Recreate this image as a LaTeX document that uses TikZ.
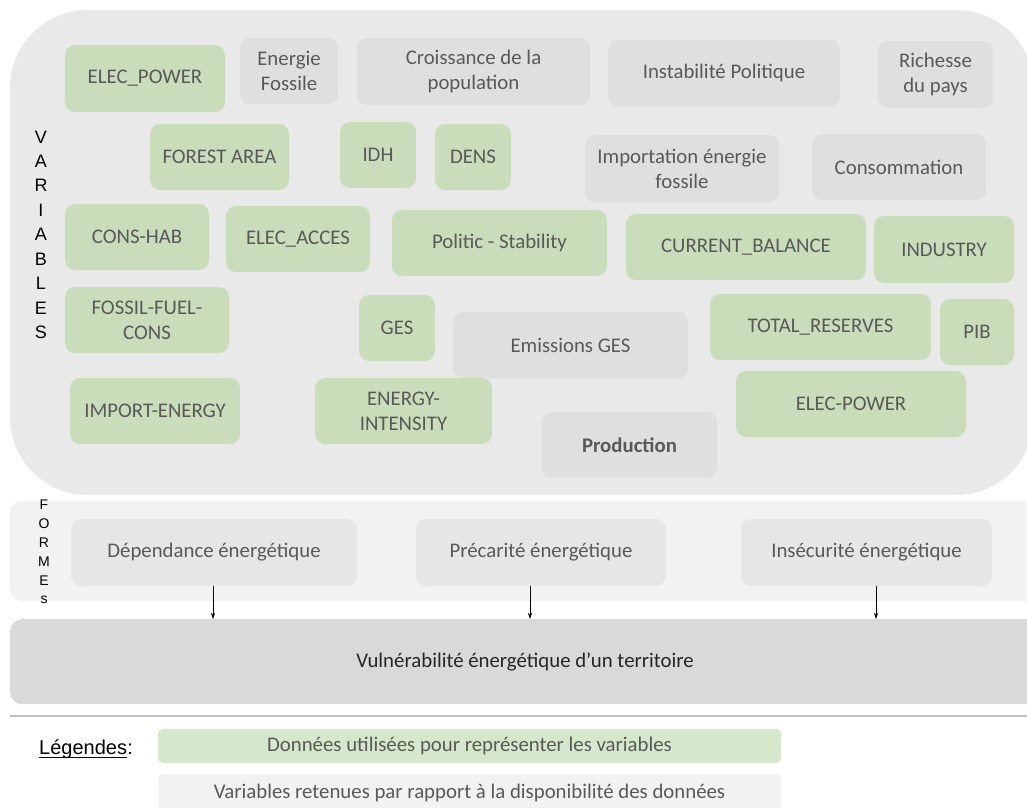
\documentclass[tikz,border=0pt]{standalone}
\usepackage{fontspec}
\setmainfont{Carlito}
\newfontfamily\arialf{Liberation Sans}
\usetikzlibrary{arrows.meta}
\definecolor{panel}{HTML}{E9E9E9}
\definecolor{gfill}{HTML}{C9DDBA}
\definecolor{grfill}{HTML}{DFDFDF}
\definecolor{formp}{HTML}{F2F2F2}
\definecolor{formb}{HTML}{E6E6E6}
\definecolor{vulb}{HTML}{D9D9D9}
\definecolor{legg}{HTML}{D5E8CB}
\definecolor{txt}{HTML}{595959}
\definecolor{sepl}{HTML}{BFBFBF}
\newcommand\mybox[7]{\node[#2, minimum width={(#5-#3)*1pt}, minimum height={(#6-#4)*1pt}] (#1) at ({(#3+#5)/2},{(#4+#6)/2}) {#7};}
\tikzset{
  base/.style={rounded corners=10pt, inner sep=0pt, align=center, text=txt, font=\fontsize{20.8}{25}\selectfont},
  greenbox/.style={base, fill=gfill},
  graybox/.style={base, fill=grfill},
  formbox/.style={base, fill=formb},
  legbox/.style={base, rounded corners=5pt},
  vlet/.style={font=\arialf\fontsize{18}{18}\selectfont, text=black, inner sep=0pt},
  flet/.style={font=\arialf\fontsize{14}{14}\selectfont, text=black, inner sep=0pt},
  arr/.style={-{Stealth[length=6pt,width=4pt]}, black, line width=0.6pt}
}
\begin{document}
\begin{tikzpicture}[x=1pt,y=-1pt]
\clip (0,0) rectangle (1027,807);
\fill[white] (0,0) rectangle (1027,807);
% panels
\fill[panel, rounded corners=78pt] (10,10) rectangle (1034,495);
\fill[formp, rounded corners=12pt] (10,501) rectangle (1045,601);
% variables
\mybox{ep}{greenbox}{65}{45}{225}{112}{ELEC\_POWER}
\mybox{ef}{graybox}{240}{38}{338}{104}{Energie\\Fossile}
\mybox{cp}{graybox}{357}{38}{590}{105}{Croissance de la\\population}
\mybox{ip}{graybox}{608}{40}{840}{106}{Instabilité Politique}
\mybox{rp}{graybox}{878}{41}{993}{108}{Richesse\\du pays}
\mybox{fa}{greenbox}{150}{124}{289}{190}{FOREST AREA}
\mybox{idh}{greenbox}{340}{122}{416}{188}{IDH}
\mybox{dens}{greenbox}{435}{124}{511}{190}{DENS}
\mybox{ief}{graybox}{585}{135}{779}{202}{Importation énergie\\fossile}
\mybox{cons}{graybox}{812}{134}{986}{200}{Consommation}
\mybox{ch}{greenbox}{65}{204}{209}{270}{CONS-HAB}
\mybox{ea}{greenbox}{226}{206}{370}{272}{ELEC\_ACCES}
\mybox{ps}{greenbox}{392}{210}{607}{276}{Politic - Stability}
\mybox{cb}{greenbox}{626}{214}{866}{280}{CURRENT\_BALANCE}
\mybox{ind}{greenbox}{874}{216}{1014}{283}{INDUSTRY}
\mybox{ffc}{greenbox}{65}{287}{229}{353}{FOSSIL-FUEL-\\CONS}
\mybox{ges}{greenbox}{359}{295}{435}{361}{GES}
\mybox{eg}{graybox}{453}{312}{688}{378}{Emissions GES}
\mybox{tr}{greenbox}{710}{294}{931}{360}{TOTAL\_RESERVES}
\mybox{pib}{greenbox}{940}{299}{1014}{365}{PIB}
\mybox{ie}{greenbox}{70}{378}{240}{444}{IMPORT-ENERGY}
\mybox{ei}{greenbox}{315}{378}{492}{444}{ENERGY-\\INTENSITY}
\mybox{ep2}{greenbox}{736}{371}{966}{437}{ELEC-POWER}
\mybox{prod}{graybox}{542}{412}{717}{478}{\bfseries Production}
% vertical label VARIABLES
\foreach \l [count=\i from 0] in {V,A,R,I,A,B,L,E,S}
  \node[vlet] (v\i) at (41,{137+\i*24.4}) {\l};
% vertical label FORMEs
\foreach \l [count=\i from 0] in {F,O,R,M,E,s}
  \node[flet] (f\i) at (44,{505+\i*19}) {\l};
% forms
\mybox{dep}{formbox}{71}{519}{357}{586}{Dépendance énergétique}
\mybox{pre}{formbox}{416}{519}{666}{586}{Précarité énergétique}
\mybox{ins}{formbox}{741}{519}{992}{586}{Insécurité énergétique}
% vulnerability
\node[rounded corners=12pt, fill=vulb, inner sep=0pt, minimum width=1040pt, minimum height=85pt, anchor=north west] (vul) at (10,619) {};
\node[text=black!85, font=\fontsize{20.8}{25}\selectfont, inner sep=0pt] (vult) at (525,662) {Vulnérabilité énergétique d’un territoire};
\draw[arr] (dep.south -| 213,0) -- (vul.north -| 213,0);
\draw[arr] (pre.south -| 530,0) -- (vul.north -| 530,0);
\draw[arr] (ins.south -| 876,0) -- (vul.north -| 876,0);
% separator
\coordinate (s1) at (10,716);
\coordinate (s2) at (1027,716);
\draw[sepl, line width=1.6pt] (s1) -- (s2);
% legend
\node[font=\arialf\fontsize{20}{22}\selectfont, text=black, inner sep=0pt, anchor=base west] (leg) at (39,754) {Légendes};
\node[font=\arialf\fontsize{20}{22}\selectfont, text=black, inner sep=0pt, anchor=base west] (legc) at (leg.base east) {:};
\draw[black, line width=0.9pt] ([yshift=-3pt]leg.base west) -- ([yshift=-3pt]leg.base east);
\mybox{lg1}{legbox, fill=legg}{158}{729}{781}{763}{Données utilisées pour représenter les variables}
\mybox{lg2}{legbox, fill=formp}{158}{774}{781}{812}{Variables retenues par rapport à la disponibilité des données}
\end{tikzpicture}
\end{document}
